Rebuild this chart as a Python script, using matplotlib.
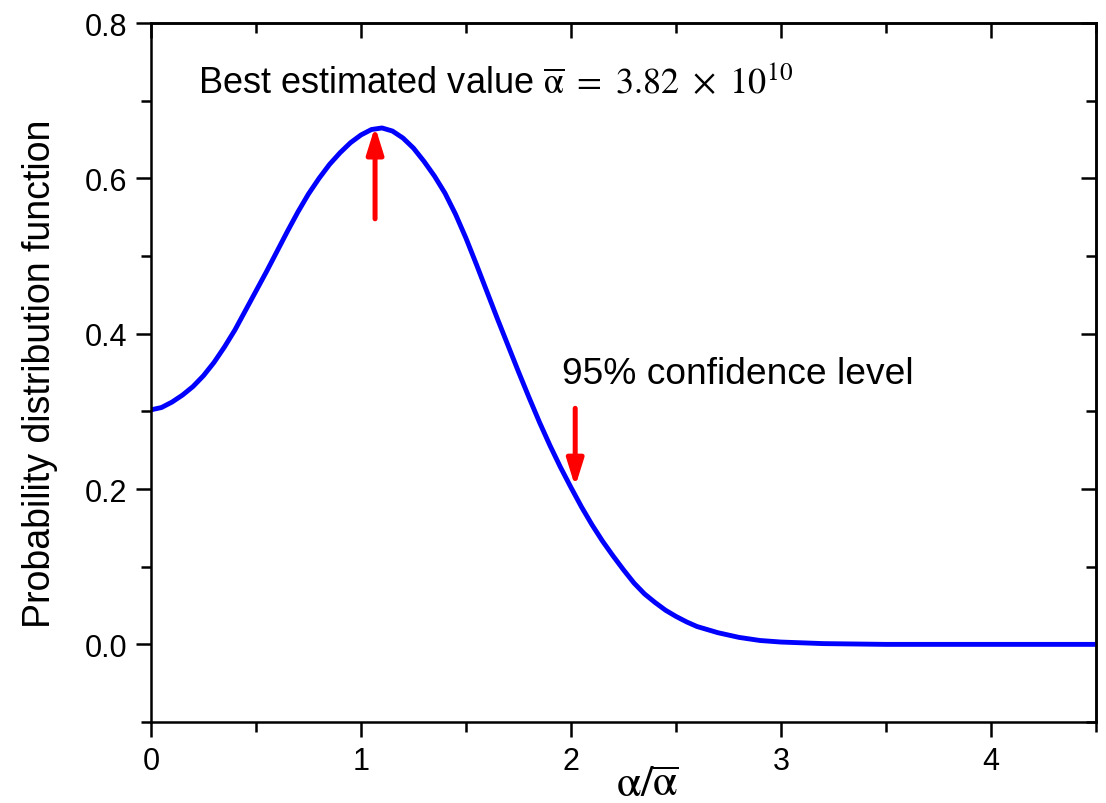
import matplotlib
matplotlib.use('Agg')
import matplotlib.pyplot as plt
from matplotlib.ticker import MultipleLocator

# curve
ratio = [0.00, 0.05, 0.10, 0.15, 0.20, 0.25, 0.30, 0.35, 0.40, 0.45, 0.50,
         0.55, 0.60, 0.65, 0.70, 0.75, 0.80, 0.85, 0.90, 0.95, 1.00, 1.05,
         1.10, 1.15, 1.20, 1.25, 1.30, 1.35, 1.40, 1.45, 1.50, 1.55, 1.60,
         1.65, 1.70, 1.75, 1.80, 1.85, 1.90, 1.95, 2.00, 2.05, 2.10, 2.15,
         2.20, 2.25, 2.30, 2.35, 2.40, 2.45, 2.50, 2.55, 2.60, 2.70, 2.80,
         2.90, 3.00, 3.20, 3.50, 4.00, 4.50]
pdf = [0.302, 0.305, 0.312, 0.321, 0.332, 0.346, 0.363, 0.383, 0.405, 0.430,
       0.455, 0.480, 0.506, 0.532, 0.557, 0.580, 0.600, 0.618, 0.633, 0.646,
       0.656, 0.663, 0.665, 0.661, 0.652, 0.639, 0.622, 0.603, 0.581, 0.554,
       0.523, 0.489, 0.454, 0.419, 0.385, 0.351, 0.318, 0.286, 0.256, 0.228,
       0.202, 0.177, 0.154, 0.133, 0.114, 0.096, 0.079, 0.065, 0.054, 0.044,
       0.036, 0.029, 0.023, 0.015, 0.009, 0.005, 0.003, 0.001, 0.0, 0.0, 0.0]

peak_x, peak_tail, peak_tip = 1.067, 0.548, 0.667
conf_x, conf_tail, conf_tip = 2.02, 0.304, 0.203

plt.rcParams['font.family'] = ['Liberation Sans', 'DejaVu Sans']
plt.rcParams['mathtext.fontset'] = 'stix'

fig = plt.figure(figsize=(11.06, 8.04), dpi=100)
ax = fig.add_axes([0.1365, 0.1007, 0.8545, 0.8693])

ax.plot(ratio, pdf, color='#0000ff', lw=3.5, solid_joinstyle='round')

arrow = dict(arrowstyle='-|>,head_length=1.6,head_width=0.5', color='#ff0000',
             lw=3.6, shrinkA=0, shrinkB=0)
ax.annotate('', xy=(peak_x, peak_tip), xytext=(peak_x, peak_tail), arrowprops=arrow)
ax.annotate('', xy=(conf_x, conf_tip), xytext=(conf_x, conf_tail), arrowprops=arrow)

ax.text(0.224, 0.711,
        r'Best estimated value $\overline{\mathrm{\alpha}}\ =\ 3.82\ \times\ 10^{10}$',
        fontsize=26, ha='left', va='baseline')
ax.text(1.955, 0.336, '95% confidence level', fontsize=26.7, ha='left', va='baseline')

ax.set_xlim(0, 4.5)
ax.set_ylim(-0.1, 0.8)
ax.xaxis.set_major_locator(MultipleLocator(1))
ax.xaxis.set_minor_locator(MultipleLocator(0.5))
ax.yaxis.set_major_locator(MultipleLocator(0.2))
ax.yaxis.set_minor_locator(MultipleLocator(0.1))
ax.yaxis.set_major_formatter(plt.FormatStrFormatter('%.1f'))

ax.tick_params(which='major', direction='out', length=11, width=1.8, labelsize=22, pad=6)
ax.tick_params(which='minor', direction='out', length=7, width=1.8)
for s in ax.spines.values():
    s.set_linewidth(1.8)

# top and right: ticks pointing inward, no labels
top = ax.secondary_xaxis('top')
top.xaxis.set_major_locator(MultipleLocator(1))
top.xaxis.set_minor_locator(MultipleLocator(0.5))
top.tick_params(which='major', direction='in', length=11, width=1.8, labeltop=False)
top.tick_params(which='minor', direction='in', length=7, width=1.8)
top.spines['top'].set_linewidth(1.8)
right = ax.secondary_yaxis('right')
right.yaxis.set_major_locator(MultipleLocator(0.2))
right.yaxis.set_minor_locator(MultipleLocator(0.1))
right.tick_params(which='major', direction='in', length=11, width=1.8, labelright=False)
right.tick_params(which='minor', direction='in', length=7, width=1.8)
right.spines['right'].set_linewidth(1.8)

ax.set_xlabel(r'$\mathrm{\alpha}/\overline{\mathrm{\alpha}}$', fontsize=32)
ax.xaxis.set_label_coords(0.525, -0.058)
ax.set_ylabel('Probability distribution function', fontsize=27)
ax.yaxis.set_label_coords(-0.098, 0.5)

fig.savefig('out.png', dpi=100)
